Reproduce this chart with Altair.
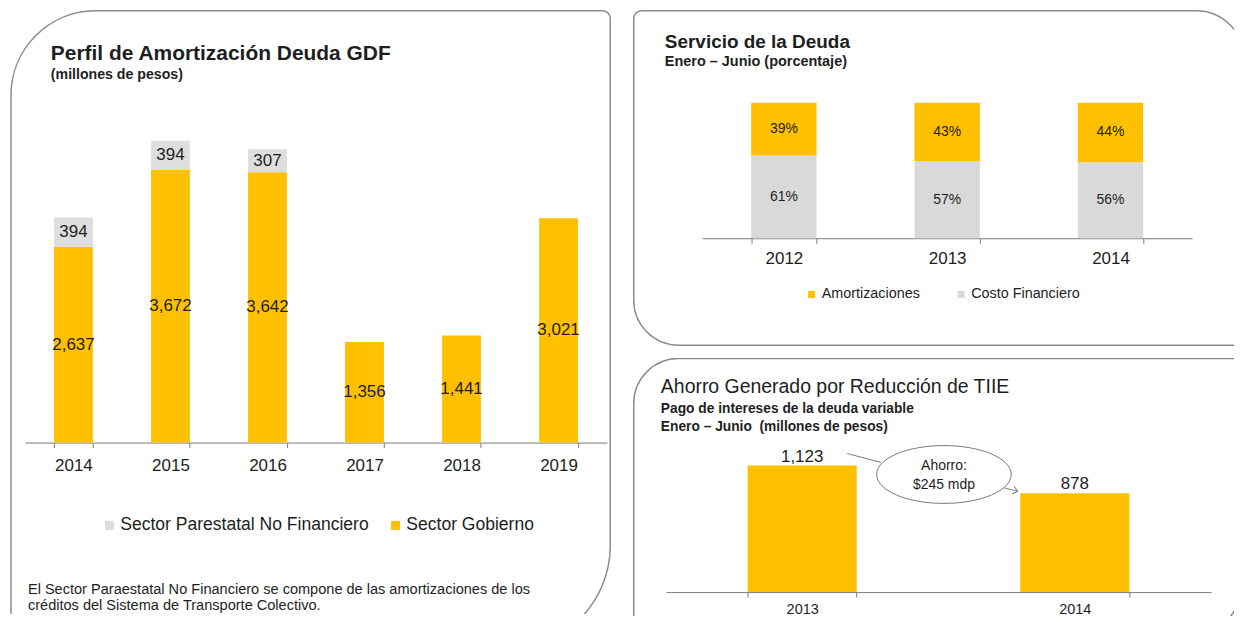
import altair as alt
import pandas as pd

# ---------------- data ----------------
years_perfil = ["2014", "2015", "2016", "2017", "2018", "2019"]
sector_gobierno = [2637, 3672, 3642, 1356, 1441, 3021]
sector_paraestatal = [394, 394, 307, 0, 0, 0]
series_perfil = ["Sector Parestatal No Financiero", "Sector Gobierno"]

years_servicio = ["2012", "2013", "2014"]
amortizaciones_pct = [39, 43, 44]
costo_financiero_pct = [61, 57, 56]
series_servicio = ["Amortizaciones", "Costo Financiero"]

years_ahorro = ["2013", "2014"]
intereses_variable = [1123, 878]

FONT = "Liberation Sans"
YEL = "#FFC000"
GRAY_L = "#DEDEDE"
GRAY_R = "#D9D9D9"
BORDER = "#8c8c8c"
TXT = "#1e1e1e"
AXC = "#7a7a7a"

one = pd.DataFrame({"k": [0]})


def txt(s, x, y, size, weight="normal", align="left", baseline="alphabetic", color=TXT):
    return alt.Chart(one).mark_text(
        align=align, baseline=baseline, fontSize=size, fontWeight=weight,
        font=FONT, color=color
    ).encode(x=alt.value(x), y=alt.value(y), text=alt.value(s))


def border(x, x2, y, y2, tl, tr, br, bl):
    return alt.Chart(one).mark_rect(
        fill="white", fillOpacity=0, stroke=BORDER, strokeWidth=1.5,
        cornerRadiusTopLeft=tl, cornerRadiusTopRight=tr,
        cornerRadiusBottomRight=br, cornerRadiusBottomLeft=bl, clip=True
    ).encode(x=alt.value(x), x2=alt.value(x2), y=alt.value(y), y2=alt.value(y2))


def xaxis(offset, size, pad):
    return alt.Axis(title=None, orient="bottom", offset=offset, labelAngle=0,
                    domainColor=AXC, tickColor=AXC, tickBand="extent", tickSize=5,
                    labelFontSize=size, labelColor=TXT, labelPadding=pad,
                    labelFont=FONT, grid=False)

# ---------------- left panel ----------------
W_L, H_L = 604, 606
df_l = pd.DataFrame({
    "year": years_perfil * 2,
    "sector": [series_perfil[1]] * len(years_perfil) + [series_perfil[0]] * len(years_perfil),
    "value": sector_gobierno + sector_paraestatal,
    "ord": [0] * len(years_perfil) + [1] * len(years_perfil),
})
base_l = alt.Chart(df_l).transform_filter("datum.value > 0").transform_stack(
    stack="value", groupby=["year"], as_=["y0", "y1"],
    sort=[alt.SortField("ord", order="ascending")]
).transform_calculate(mid="(datum.y0 + datum.y1) / 2")

x_l = alt.X("year:N", sort=years_perfil,
            scale=alt.Scale(range=[16, 600], paddingInner=0.6, paddingOuter=0.3),
            axis=xaxis(434 - H_L, 17, 10))
ys_l = alt.Scale(domain=[0, 4000], range=[434, 136])

bars_l = base_l.mark_bar().encode(
    x=x_l,
    y=alt.Y("y1:Q", scale=ys_l, axis=None),
    y2="y0:Q",
    color=alt.Color("sector:N",
                    scale=alt.Scale(domain=series_perfil, range=[GRAY_L, YEL]),
                    legend=alt.Legend(orient="none", legendX=92, legendY=508,
                                      direction="horizontal", title=None,
                                      symbolType="square", symbolSize=81,
                                      symbolStrokeWidth=0, labelFontSize=17.6,
                                      labelFont=FONT, labelColor=TXT,
                                      labelOffset=2, columnPadding=18, padding=0,
                                      labelLimit=400)),
)
labels_l = base_l.mark_text(fontSize=17, color=TXT, baseline="middle", font=FONT).encode(
    x=x_l,
    y=alt.Y("mid:Q", scale=ys_l, axis=None),
    text=alt.Text("value:Q", format=",d"),
)
left = alt.layer(
    border(2, 603.25, 0.75, 642, 85, 8, 105, 0),
    bars_l, labels_l,
    txt("Perfil de Amortización Deuda GDF", 42, 50, 21, "bold"),
    txt("(millones de pesos)", 42, 69, 14.2, "bold"),
    txt("El Sector Paraestatal No Financiero se compone de las amortizaciones de los",
        19, 582, 14.6, baseline="middle"),
    txt("créditos del Sistema de Transporte Colectivo.", 19, 598, 14.6, baseline="middle"),
).properties(width=W_L, height=H_L)

# ---------------- top-right panel ----------------
W_R, H_T, H_B = 603, 337, 259
df_s = pd.DataFrame({
    "year": years_servicio * 2,
    "serie": [series_servicio[1]] * len(years_servicio) + [series_servicio[0]] * len(years_servicio),
    "value": costo_financiero_pct + amortizaciones_pct,
    "ord": [0] * len(years_servicio) + [1] * len(years_servicio),
})
base_s = alt.Chart(df_s).transform_stack(
    stack="value", groupby=["year"], as_=["y0", "y1"],
    sort=[alt.SortField("ord", order="ascending")]
).transform_calculate(mid="(datum.y0 + datum.y1) / 2", lab="datum.value + '%'")

x_s = alt.X("year:N", sort=years_servicio,
            scale=alt.Scale(range=[69.5, 561], paddingInner=0.6, paddingOuter=0.3),
            axis=xaxis(229 - H_T, 17, 7.5))
ys_s = alt.Scale(domain=[0, 100], range=[229, 93])

bars_s = base_s.mark_bar().encode(
    x=x_s,
    y=alt.Y("y1:Q", scale=ys_s, axis=None),
    y2="y0:Q",
    color=alt.Color("serie:N",
                    scale=alt.Scale(domain=series_servicio, range=[YEL, GRAY_R]),
                    legend=alt.Legend(orient="none", legendX=172, legendY=278,
                                      direction="horizontal", title=None,
                                      symbolType="square", symbolSize=49,
                                      symbolStrokeWidth=0, labelFontSize=14.4,
                                      labelFont=FONT, labelColor=TXT,
                                      labelOffset=3, columnPadding=34, padding=0,
                                      labelLimit=300)),
)
labels_s = base_s.mark_text(fontSize=14, color=TXT, baseline="middle", font=FONT).encode(
    x=x_s,
    y=alt.Y("mid:Q", scale=ys_s, axis=None),
    text="lab:N",
)
top_right = alt.layer(
    border(0.75, 613, 0.75, 336.25, 8, 48, 0, 45),
    bars_s, labels_s,
    txt("Servicio de la Deuda", 32, 38, 19, "bold"),
    txt("Enero – Junio (porcentaje)", 32, 56.5, 14.5, "bold"),
).properties(width=W_R, height=H_T)

# ---------------- bottom-right panel ----------------
df_a = pd.DataFrame({"year": years_ahorro, "value": intereses_variable})
x_a = alt.X("year:N", sort=years_ahorro,
            scale=alt.Scale(range=[33, 580], paddingInner=0.6, paddingOuter=0.3),
            axis=xaxis(235 - H_B, 14.5, 5.5))
ys_a = alt.Scale(domain=[0, 1200], range=[235, 99.3])

bars_a = alt.Chart(df_a).mark_bar(color=YEL).encode(
    x=x_a, y=alt.Y("value:Q", scale=ys_a, axis=None))
labels_a = alt.Chart(df_a).mark_text(fontSize=17, color=TXT, baseline="middle",
                                     dy=-9, font=FONT).encode(
    x=x_a, y=alt.Y("value:Q", scale=ys_a, axis=None),
    text=alt.Text("value:Q", format=",d"))

ellipse = alt.Chart(one).mark_point(
    shape="M -1 0 A 1 0.43 0 1 1 1 0 A 1 0.43 0 1 1 -1 0 Z",
    filled=True, fill="white", stroke=AXC, strokeWidth=1, size=135 * 135, opacity=1
).encode(x=alt.value(312), y=alt.value(117))
tail1 = alt.Chart(one).mark_rule(color=AXC, strokeWidth=1).encode(
    x=alt.value(215), y=alt.value(96), x2=alt.value(249), y2=alt.value(105))
tail2 = alt.Chart(one).mark_rule(color=AXC, strokeWidth=1).encode(
    x=alt.value(371), y=alt.value(130), x2=alt.value(386), y2=alt.value(134))
head = alt.Chart(one).mark_point(
    shape="M -1 -0.8 L 0 0 L -1 0.8", filled=False, stroke=AXC, strokeWidth=1,
    size=100, angle=15, opacity=1
).encode(x=alt.value(386), y=alt.value(134))

bottom_right = alt.layer(
    border(0.75, 611, 0.75, 284, 45, 0, 60, 0),
    bars_a, labels_a, tail1, tail2, ellipse, head,
    txt("Ahorro:", 312, 109, 14, align="center", baseline="middle"),
    txt("$245 mdp", 312, 128, 14, align="center", baseline="middle"),
    txt("Ahorro Generado por Reducción de TIIE", 28, 35, 19.5),
    txt("Pago de intereses de la deuda variable", 28, 55.5, 13.8, "bold"),
    txt("Enero – Junio\u00a0\u00a0(millones de pesos)", 28, 73.5, 13.8, "bold"),
).properties(width=W_R, height=H_B)

right = alt.vconcat(top_right, bottom_right, spacing=10).resolve_scale(
    color="independent").resolve_legend(color="independent")

chart = alt.hconcat(left, right, spacing=20).resolve_scale(
    color="independent").resolve_legend(color="independent").properties(
    padding=0).configure(font=FONT).configure_view(stroke="transparent")

chart.save("out.html", embed_options={"renderer": "svg", "actions": False})
